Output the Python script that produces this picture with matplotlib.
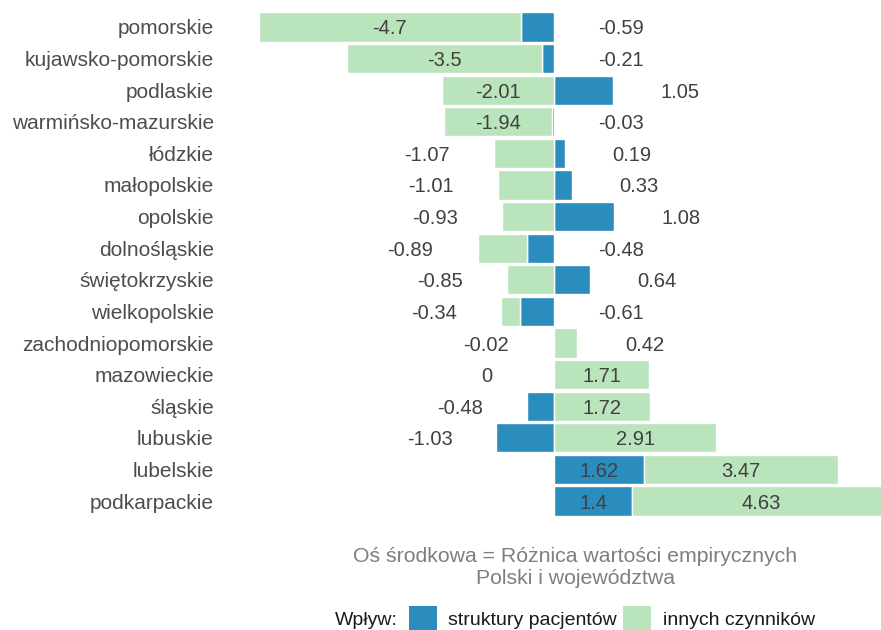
import matplotlib
matplotlib.use("Agg")
import matplotlib.pyplot as plt
from matplotlib.patches import Rectangle
import numpy as np

plt.rcParams['font.family'] = ['Liberation Sans', 'DejaVu Sans']

regions = ["pomorskie", "kujawsko-pomorskie", "podlaskie", "warmińsko-mazurskie",
           "łódzkie", "małopolskie", "opolskie", "dolnośląskie", "świętokrzyskie",
           "wielkopolskie", "zachodniopomorskie", "mazowieckie", "śląskie",
           "lubuskie", "lubelskie", "podkarpackie"]
struktury = [-0.59, -0.21, 1.05, -0.03, 0.19, 0.33, 1.08, -0.48, 0.64, -0.61,
             -0.02, 0, -0.48, -1.03, 1.62, 1.4]
inne = [-4.7, -3.5, -2.01, -1.94, -1.07, -1.01, -0.93, -0.89, -0.85, -0.34,
        0.42, 1.71, 1.72, 2.91, 3.47, 4.63]

legend_title = "Wpływ:"
legend_labels = ["struktury pacjentów", "innych czynników"]
caption = "Oś środkowa = Różnica wartości empirycznych\nPolski i województwa"

BLUE = "#2b8cbe"
GREEN = "#bae4bc"
TXT = "#404040"

W, H = 881, 630
fig = plt.figure(figsize=(W / 100, H / 100), dpi=100)
ax = fig.add_axes([218 / W, 1 - 520 / H, (W - 218) / W, 512 / H])

b = np.array(struktury, dtype=float)
g = np.array(inne, dtype=float)
y = np.arange(len(regions))

g_left = np.where(np.sign(g) == np.sign(b), b, 0.0)
ax.barh(y, b, height=0.92, color=BLUE, edgecolor="white", linewidth=1.0)
ax.barh(y, g, left=g_left, height=0.92, color=GREEN, edgecolor="white", linewidth=1.0)

neg_end = np.minimum(b, 0) + np.minimum(g, 0)
pos_end = np.maximum(b, 0) + np.maximum(g, 0)
off = 1.2
thr = 1.3
fs = 14.5

def fmt(v):
    s = f"{v:g}"
    return "0" if s in ("-0", "0") else s

for i in range(len(regions)):
    # green label
    if abs(g[i]) >= thr:
        gx = g_left[i] + g[i] / 2
    elif g[i] < 0:
        gx = neg_end[i] - off
    else:
        gx = pos_end[i] + off
    ax.text(gx, y[i], fmt(g[i]), ha="center", va="center_baseline", fontsize=fs, color=TXT)
    # blue label
    if abs(b[i]) >= thr:
        bx = b[i] / 2
    elif g[i] < 0:
        bx = pos_end[i] + off
    else:
        bx = neg_end[i] - off
    ax.text(bx, y[i], fmt(b[i]), ha="center", va="center_baseline", fontsize=fs, color=TXT)

ax.set_xlim(-6.02, 5.86)
ax.set_ylim(len(regions) - 0.4, -0.6)
ax.set_yticks(y)
ax.set_yticklabels(regions, fontsize=15, color="#4d4d4d", va="center_baseline")
ax.tick_params(axis="y", length=0, pad=3)
ax.set_xticks([])
for s in ax.spines.values():
    s.set_visible(False)

fig.text(575 / W, 1 - 568 / H, caption, ha="center", va="center", fontsize=15.3,
         color="#7f7f7f", linespacing=1.2)

# legend
ly = 1 - 625 / H
lfs = 14
fig.text(335 / W, ly, legend_title, ha="left", va="baseline", fontsize=lfs, color="#1a1a1a")
sq = 28
fig.patches.append(Rectangle((409 / W, 1 - 634 / H), sq / W, sq / H, transform=fig.transFigure,
                             facecolor=BLUE, edgecolor="none"))
fig.text(448 / W, ly, legend_labels[0], ha="left", va="baseline", fontsize=lfs, color="#1a1a1a")
fig.patches.append(Rectangle((623 / W, 1 - 634 / H), sq / W, sq / H, transform=fig.transFigure,
                             facecolor=GREEN, edgecolor="none"))
fig.text(663 / W, ly, legend_labels[1], ha="left", va="baseline", fontsize=lfs, color="#1a1a1a")

fig.savefig("out.png", dpi=100)
